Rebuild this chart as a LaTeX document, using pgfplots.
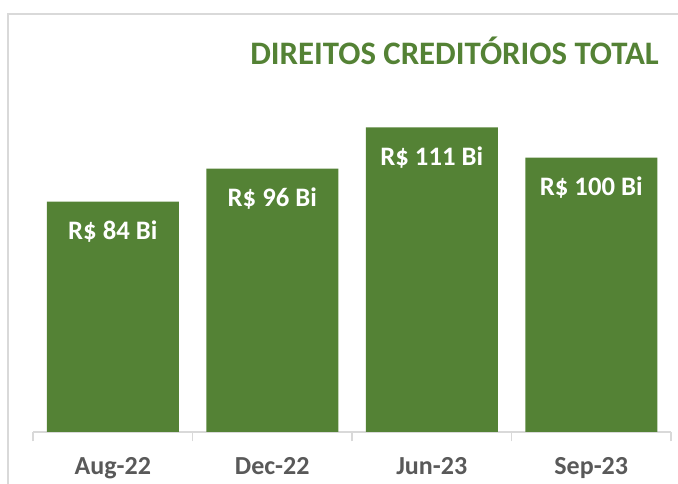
\documentclass[border=0pt]{standalone}
\usepackage{fontspec}
\setmainfont{Carlito}
\usepackage{pgfplots}
\pgfplotsset{compat=1.18}
\definecolor{bargreen}{HTML}{548235}
\definecolor{ticklab}{HTML}{595959}
\definecolor{framegray}{HTML}{D9D9D9}
\begin{document}
\begin{tikzpicture}[x=0.75pt,y=0.75pt]
\useasboundingbox (0,0) rectangle (678,484);
\draw[framegray, line width=1.5pt] (8,0) -- (8,470) -- (678,470);
\node[anchor=base east, font=\fontsize{24.6}{28}\selectfont\bfseries, text=bargreen, inner sep=0pt] at (659,419) {DIREITOS CREDITÓRIOS TOTAL};
\begin{axis}[
  at={(24.75pt,39pt)}, anchor=south west, scale only axis,
  width=478.5pt, height=246.9pt,
  xmin=-0.5, xmax=3.5, ymin=0, ymax=120,
  axis y line=none, axis x line*=bottom,
  axis line style={framegray, line width=1pt, -},
  xtick={0,1,2,3}, xticklabels={Aug-22,Dec-22,Jun-23,Sep-23},
  major tick length=0pt,
  minor xtick={-0.5,0.5,1.5,2.5,3.5}, minor tick length=7pt, tick align=outside,
  minor tick style={framegray, line width=1pt},
  xticklabel style={font=\fontsize{19.5}{22}\selectfont\bfseries, text=ticklab, anchor=base, yshift=-32.25pt, inner sep=0pt},
  clip=false,
]
\addplot[ybar, bar width=99pt, fill=bargreen, draw=none,
  nodes near coords, point meta=explicit symbolic,
  nodes near coords style={anchor=base, yshift=-28.5pt, inner sep=0pt, font=\fontsize{20}{24}\selectfont\bfseries, text=white}]
  coordinates {(0,84) [R\$ 84 Bi] (1,96) [R\$ 96 Bi] (2,111) [R\$ 111 Bi] (3,100) [R\$ 100 Bi]};
\end{axis}
\end{tikzpicture}
\end{document}
